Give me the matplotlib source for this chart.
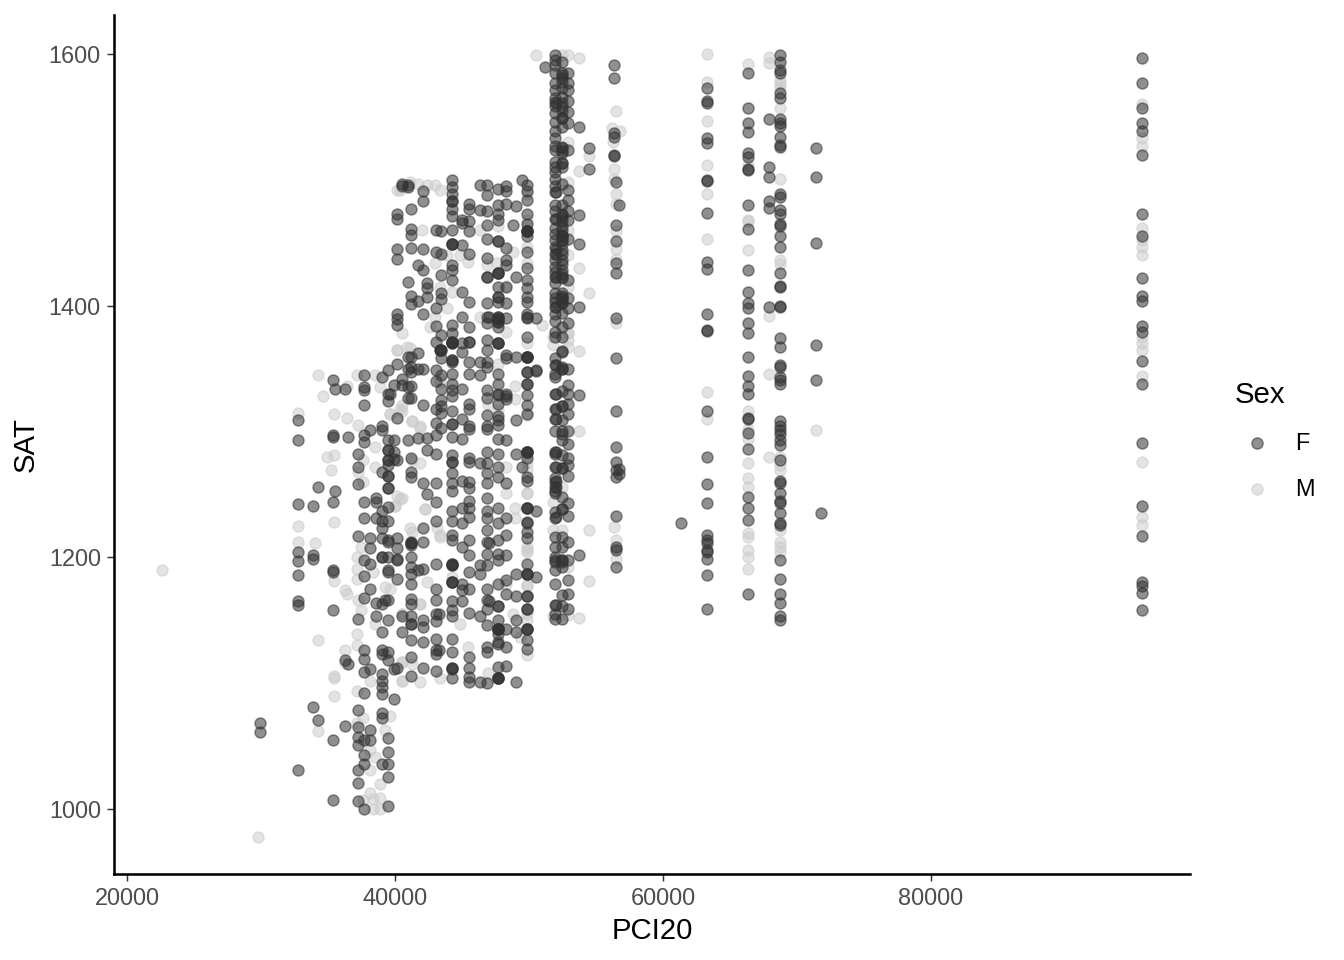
import matplotlib
matplotlib.use("Agg")
import matplotlib.pyplot as plt
from matplotlib.lines import Line2D

plt.rcParams['font.family'] = ['Liberation Sans', 'DejaVu Sans']

# female points, one SAT list per PCI20 value
f_pci = [29930, 32760, 33880, 34250, 35400, 35550, 36300, 36500, 37250, 37650, 38150, 38600,
         39000, 39500, 39900, 40125, 40500, 41000, 41200, 41700, 42090, 42400, 43050, 43400,
         44250, 45000, 45500, 46350, 46900, 47700, 48300, 49000, 49450, 49850, 50520,
         51200, 51940, 52440, 52890, 53730, 54480, 56370, 56470, 56700,
         61370, 63260, 66320, 67890, 68760, 71420, 71800, 95720]
f_sat = [
    [1068, 1061],
    [1309, 1293, 1242, 1204, 1197, 1186, 1165, 1162, 1031],
    [1241, 1202, 1199, 1081],
    [1256, 1071],
    [1341, 1297, 1296, 1244, 1190, 1188, 1158, 1055, 1007],
    [1334, 1253],
    [1334, 1118, 1066],
    [1296, 1115],
    [1282, 1272, 1258, 1217, 1151, 1079, 1065, 1057, 1051, 1031, 1021, 1006],
    [1345, 1335, 1333, 1321, 1297, 1292, 1244, 1231, 1198, 1185, 1168, 1126, 1119, 1109, 1092, 1055, 1043, 1036, 1000],
    [1301, 1215, 1207, 1195, 1175, 1111, 1063, 1055],
    [1247, 1244, 1231, 1164, 1153],
    [1343, 1304, 1301, 1268, 1237, 1229, 1223, 1215, 1200, 1163, 1141, 1126, 1123, 1107, 1102, 1097, 1091, 1076, 1072, 1036],
    [1349, 1330, 1324, 1293, 1285, 1277, 1273, 1265, 1255, 1240, 1214, 1190, 1166, 1150, 1118, 1056, 1045, 1036, 1025, 1002,
     1285, 1277, 1265, 1255, 1229, 1212, 1200, 1188, 1125],
    [1337, 1278, 1087, 1111, 1293, 1284],
    [1473, 1469, 1393, 1389, 1385, 1445, 1437, 1354, 1311, 1198, 1183, 1215, 1207, 1277, 1199, 1112],
    [1497, 1495, 1342, 1337, 1153, 1141],
    [1496, 1494, 1419, 1359, 1350, 1335, 1327, 1293],
    [1477, 1461, 1456, 1446, 1408, 1401, 1359, 1351, 1347, 1336, 1327, 1279, 1268, 1264, 1212, 1210, 1200, 1192, 1187, 1179,
     1167, 1163, 1153, 1147, 1134, 1121, 1106],
    [1432, 1404, 1362, 1350, 1295, 1190],
    [1491, 1483, 1445, 1428, 1393, 1350, 1321, 1259, 1223, 1212, 1191, 1150, 1145, 1133, 1112],
    [1418, 1414, 1407, 1295, 1285, 1250],
    [1460, 1443, 1398, 1384, 1371, 1349, 1340, 1318, 1307, 1297, 1282, 1259, 1244, 1229, 1195, 1175, 1166, 1155, 1149, 1135,
     1126, 1123, 1110],
    [1459, 1441, 1424, 1405, 1410, 1377, 1365, 1365, 1358, 1345, 1334, 1325, 1320, 1315, 1303],
    [1500, 1494, 1489, 1483, 1477, 1471, 1460, 1449, 1449, 1432, 1428, 1420, 1385, 1378, 1371, 1370, 1370, 1357, 1355, 1346,
     1338, 1333, 1328, 1316, 1306, 1306, 1296, 1281, 1276, 1267, 1259, 1253, 1237, 1229, 1218, 1214, 1194, 1194, 1180, 1180,
     1165, 1158, 1153, 1135, 1125, 1112, 1112, 1104],
    [1468, 1466, 1448, 1411, 1391, 1370, 1363, 1334, 1310, 1294, 1261, 1239, 1227, 1208, 1179, 1174, 1165],
    [1481, 1477, 1459, 1441, 1403, 1383, 1371, 1355, 1346, 1322, 1318, 1302, 1304, 1279, 1276, 1260, 1255, 1245, 1239, 1232,
     1214, 1202, 1188, 1175, 1156, 1121, 1112, 1105, 1101],
    [1496, 1476, 1355, 1275, 1194, 1187, 1153, 1101, 1345],
    [1496, 1488, 1475, 1464, 1453, 1438, 1423, 1423, 1402, 1391, 1386, 1373, 1365, 1355, 1351, 1333, 1327, 1313, 1304, 1302,
     1284, 1275, 1267, 1259, 1247, 1237, 1231, 1222, 1212, 1203, 1194, 1175, 1166, 1159, 1146, 1129, 1125, 1100],
    [1493, 1480, 1473, 1468, 1451, 1426, 1426, 1415, 1407, 1403, 1391, 1387, 1387, 1383, 1370, 1370, 1346, 1338, 1330, 1322,
     1312, 1305, 1309, 1294, 1282, 1272, 1264, 1239, 1227, 1214, 1203, 1198, 1179, 1161, 1150, 1143, 1143, 1139, 1131, 1113,
     1104, 1104],
    [1495, 1491, 1481, 1446, 1436, 1432, 1415, 1402, 1390, 1361, 1358, 1330, 1326, 1293, 1259, 1231, 1218, 1202, 1182, 1171,
     1143, 1129, 1114],
    [1479, 1423, 1359, 1309, 1282, 1187, 1169, 1150, 1141, 1101],
    [1500, 1272],
    [1496, 1491, 1484, 1473, 1465, 1459, 1459, 1455, 1443, 1430, 1420, 1414, 1407, 1403, 1393, 1390, 1375, 1359, 1359, 1347,
     1338, 1329, 1321, 1314, 1284, 1284, 1279, 1264, 1261, 1239, 1239, 1228, 1220, 1215, 1195, 1187, 1187, 1169, 1169, 1159,
     1143, 1143, 1134, 1127],
    [1390, 1349, 1348, 1237, 1184],
    [1590],
    [1599, 1591, 1585, 1577, 1571, 1562, 1559, 1553, 1546, 1539, 1533, 1524, 1514, 1506, 1501, 1490, 1480, 1469, 1457, 1447,
     1441, 1431, 1423, 1406, 1399, 1388, 1379, 1595, 1565, 1527, 1510, 1495, 1475, 1462, 1452, 1436, 1427, 1418, 1410, 1403,
     1393, 1375, 1358, 1353, 1343, 1330, 1318, 1310, 1300, 1284, 1272, 1263, 1256, 1251, 1236, 1231, 1216, 1208, 1198, 1190,
     1179, 1162, 1155, 1151, 1346, 1282, 1260, 1253, 1200, 1196],
    [1594, 1585, 1581, 1573, 1566, 1558, 1549, 1542, 1526, 1521, 1513, 1497, 1480, 1473, 1463, 1455, 1449, 1441, 1436, 1428,
     1422, 1410, 1406, 1402, 1394, 1383, 1375, 1578, 1555, 1523, 1510, 1470, 1460, 1452, 1444, 1433, 1425, 1408, 1404, 1363,
     1351, 1350, 1320, 1309, 1298, 1293, 1281, 1271, 1248, 1238, 1216, 1208, 1196, 1192, 1170, 1161, 1151],
    [1585, 1577, 1571, 1563, 1554, 1545, 1524, 1492, 1484, 1475, 1468, 1453, 1420, 1406, 1398, 1386, 1350, 1337, 1330, 1322,
     1314, 1300, 1290, 1279, 1273, 1265, 1243, 1233, 1212, 1198, 1182, 1171, 1159],
    [1542, 1472, 1449, 1399, 1329, 1202],
    [1525, 1509],
    [1591, 1581, 1537, 1534, 1520, 1519],
    [1498, 1464, 1451, 1434, 1426, 1390, 1358, 1316, 1288, 1276, 1269, 1264, 1233, 1208, 1206, 1192],
    [1480, 1270, 1266],
    [1227],
    [1573, 1563, 1561, 1533, 1529, 1500, 1499, 1474, 1435, 1429, 1393, 1380, 1381, 1316, 1280, 1258, 1243, 1218, 1214, 1211,
     1206, 1204, 1199, 1186, 1159],
    [1585, 1557, 1545, 1538, 1521, 1518, 1509, 1508, 1480, 1461, 1428, 1411, 1402, 1398, 1386, 1378, 1359, 1344, 1336, 1330,
     1311, 1310, 1299, 1286, 1248, 1239, 1230, 1171],
    [1548, 1510, 1502, 1483, 1478, 1399],
    [1599, 1594, 1587, 1585, 1569, 1565, 1548, 1545, 1543, 1534, 1528, 1526, 1489, 1486, 1476, 1473, 1465, 1463, 1455, 1447,
     1426, 1416, 1415, 1400, 1399, 1374, 1367, 1353, 1351, 1343, 1341, 1338, 1308, 1304, 1301, 1298, 1293, 1289, 1277, 1261,
     1259, 1251, 1245, 1243, 1235, 1227, 1226, 1198, 1183, 1171, 1164, 1153, 1150],
    [1525, 1502, 1450, 1369, 1341],
    [1235],
    [1597, 1577, 1557, 1545, 1539, 1520, 1473, 1455, 1422, 1408, 1404, 1384, 1379, 1356, 1338, 1291, 1241, 1217, 1180, 1177,
     1172, 1158],
]

# overplotted points where the reference goes nearly black
dup_pci = [39000, 39250, 39630, 41200, 43250, 43360, 44250, 45500, 47000, 47710, 48290, 48830, 49850, 52000, 52440]
dup_sat = [
    [1200],
    [1166],
    [1330],
    [1211, 1211, 1147],
    [1155, 1126],
    [1365, 1365],
    [1483, 1449, 1371, 1371, 1357, 1276, 1195, 1195, 1180, 1111],
    [1467, 1371],
    [1391, 1211, 1165],
    [1451, 1426, 1407, 1391, 1389, 1389, 1370, 1329, 1161, 1143, 1143, 1143, 1133, 1104, 1104],
    [1328],
    [1464],
    [1459, 1459, 1391, 1359, 1359, 1347, 1338, 1284, 1284, 1239, 1227, 1187, 1159, 1143],
    [1561, 1490, 1469, 1445, 1441, 1423, 1399, 1353, 1330, 1318, 1310, 1284, 1272, 1261, 1256, 1232, 1162],
    [1583, 1561, 1549, 1525, 1513, 1472, 1467, 1456, 1455, 1452, 1423, 1406, 1402, 1364, 1350, 1332, 1320, 1300, 1271, 1238,
     1198, 1198],
]

# male points
m_pci = [22600, 29800, 32760, 34000, 34250, 34650, 34900, 35200, 35450, 36270, 36450, 37140, 37270, 37500, 37640,
         38130, 38380, 38500, 38880, 39250, 39630, 40000, 40130, 40370, 40500, 40870, 41120, 41250, 41740, 41870,
         42040, 42240, 42360, 42610, 42990, 43110, 43360, 43860, 44230, 44850, 45470, 46350, 46840, 46970, 47590,
         47710, 48290, 48830, 48960, 49330, 49830, 50520, 50950, 51820, 52440, 52890, 53730, 54480, 56170, 56300,
         56370, 56470, 56790, 63260, 66320, 67890, 68760, 71420, 95720]
m_sat = [
    [1190],
    [978],
    [1315, 1225, 1212],
    [1211],
    [1345, 1134, 1062],
    [1328],
    [1280],
    [1269],
    [1314, 1281, 1228, 1181, 1106, 1104, 1090],
    [1174, 1126, 1116],
    [1311, 1336, 1171],
    [1345, 1200, 1191, 1183, 1139, 1130, 1094, 1068],
    [1305, 1268, 1166],
    [1158, 1208],
    [1277, 1260, 1072, 1007],
    [1102, 1047, 1031, 1013],
    [1188, 1008, 1000],
    [1345, 1288, 1272, 1147, 1041],
    [1335, 1020, 1009, 1000],
    [1123, 1063, 1176],
    [1314, 1074, 1175, 1314],
    [1241, 1241],
    [1365, 1249, 1492, 1365],
    [1492, 1318, 1246],
    [1321, 1316, 1247, 1155, 1117, 1102, 1378, 1155, 1117, 1102],
    [1367],
    [1366, 1498, 1223],
    [1308, 1277, 1220, 1115, 1308],
    [1497],
    [1303, 1275, 1163, 1304, 1163, 1101],
    [1460],
    [1238, 1238],
    [1496, 1180],
    [1383],
    [1496, 1434, 1391],
    [1223],
    [1492, 1339, 1216, 1104, 1415, 1342, 1218],
    [1398, 1440],
    [1411, 1184],
    [1440, 1147],
    [1435, 1129],
    [1460, 1391],
    [1432],
    [1322, 1108],
    [1434],
    [1463, 1354, 1317],
    [1416, 1379, 1251, 1272, 1179],
    [1443, 1155],
    [1336, 1326, 1239, 1231],
    [1137],
    [1370, 1313, 1275, 1269, 1251, 1206, 1178, 1150, 1122, 1468, 1489, 1447, 1434, 1251, 1208, 1204, 1177, 1158, 1155],
    [1599],
    [1385],
    [1375, 1369, 1222, 1244, 1153],
    [1599, 1222, 1256],
    [1599, 1530, 1498, 1415, 1440, 1460, 1378, 1367, 1192, 1154, 1378, 1373],
    [1597, 1507, 1430, 1364, 1300, 1152],
    [1519, 1410, 1222, 1181],
    [1541],
    [1530],
    [1509, 1501, 1224],
    [1555, 1489, 1481, 1459, 1445, 1437, 1386, 1214, 1207, 1199],
    [1539],
    [1600, 1578, 1547, 1512, 1489, 1453, 1331, 1310],
    [1592, 1512, 1468, 1467, 1444, 1316, 1302, 1294, 1275, 1263, 1256, 1219, 1216, 1206, 1200, 1191],
    [1598, 1593, 1392, 1346, 1280],
    [1579, 1577, 1574, 1557, 1501, 1436, 1433, 1280, 1273, 1269, 1222, 1212, 1208, 1204],
    [1301],
    [1560, 1533, 1527, 1462, 1452, 1447, 1440, 1375, 1370, 1365, 1344, 1276, 1232, 1226],
]

sex_labels = ['F', 'M']
x_ticks = [20000, 40000, 60000, 80000]
y_ticks = [1000, 1200, 1400, 1600]

f_x = [p for p, col in zip(f_pci + dup_pci, f_sat + dup_sat) for _ in col]
f_y = [s for col in f_sat + dup_sat for s in col]
m_x = [p for p, col in zip(m_pci, m_sat) for _ in col]
m_y = [s for col in m_sat for s in col]

dark = '#333333'
light = '#CCCCCC'
pt_alpha = 0.55

fig = plt.figure(figsize=(7, 5), dpi=192)
ax = fig.add_axes([114/1344, 1 - 874/960, (1190 - 114)/1344, (874 - 15)/960])

ax.scatter(m_x, m_y, s=17, c=light, edgecolors=light, linewidths=0.55, alpha=pt_alpha, zorder=2, clip_on=False)
ax.scatter(f_x, f_y, s=17, c=dark, edgecolors=dark, linewidths=0.55, alpha=pt_alpha, zorder=3, clip_on=False)

ax.set_xlim(19030, 99330)
ax.set_ylim(948.3, 1631)
ax.set_xticks(x_ticks)
ax.set_yticks(y_ticks)
ax.tick_params(length=2.75, width=0.55, color='#333333', labelcolor='#4D4D4D', labelsize=8.8, pad=2.2)
for side in ['top', 'right']:
    ax.spines[side].set_visible(False)
for side in ['left', 'bottom']:
    ax.spines[side].set_linewidth(0.95)
    ax.spines[side].set_color('black')

fig.text(652/1344, 1 - 931/960, 'PCI20', fontsize=11, ha='center', va='center')
fig.text(26/1344, 1 - 445/960, 'SAT', fontsize=11, rotation=90, ha='center', va='center')

handles = [Line2D([], [], ls='none', marker='o', ms=4.2, mfc=dark, mec=dark, mew=0.55, alpha=pt_alpha),
           Line2D([], [], ls='none', marker='o', ms=4.2, mfc=light, mec=light, mew=0.55, alpha=pt_alpha)]
fig.text(1235/1344, 1 - 395/960, 'Sex', fontsize=11, ha='left', va='center')
ys = [443, 489]
for lab, h, yy in zip(sex_labels, handles, ys):
    h.set_transform(fig.transFigure)
    h.set_data([1257/1344], [1 - yy/960])
    fig.add_artist(h)
    fig.text(1295/1344, 1 - (yy + 1)/960, lab, fontsize=8.8, ha='left', va='center')

fig.savefig('out.png', dpi=192)
